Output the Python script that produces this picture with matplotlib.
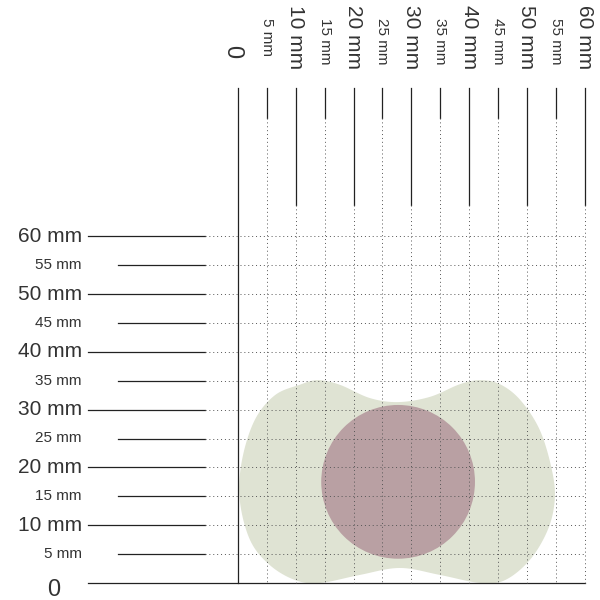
import numpy as np
import matplotlib.pyplot as plt

plt.rcParams['font.family'] = ['Liberation Sans', 'DejaVu Sans']

ticks = [5, 10, 15, 20, 25, 30, 35, 40, 45, 50, 55, 60]
labels = [f"{t} mm" for t in ticks]

# outline of the light green shape (mm)
blob_x = [6.4, 10.7, 13.8, 17.6, 22.8, 27.7, 33.2, 38.4, 41.9, 45.3, 48.8, 52.2, 54.3, 54.8,
          53.6, 50.5, 46.2, 41.9, 34.9, 28.0, 21.1, 14.2, 9.9, 5.5, 2.1, 0.3, 0.7, 2.9]
blob_y = [32.5, 34.3, 35.1, 34.3, 32.0, 31.3, 32.2, 34.4, 35.1, 34.4, 31.7, 26.5, 19.6, 14.4,
          9.2, 4.0, 0.5, 0.0, 1.4, 2.6, 1.4, 0.0, 0.5, 3.1, 7.4, 14.4, 21.3, 28.2]
circle_center = (27.7, 17.5)
circle_r = 13.3


def smooth_closed(xs, ys, n=12):
    p = np.column_stack([xs, ys])
    out = []
    m = len(p)
    for i in range(m):
        p0, p1, p2, p3 = p[i - 1], p[i], p[(i + 1) % m], p[(i + 2) % m]
        for t in np.linspace(0, 1, n, endpoint=False):
            out.append(0.5 * ((2 * p1) + (-p0 + p2) * t + (2 * p0 - 5 * p1 + 4 * p2 - p3) * t ** 2
                              + (-p0 + 3 * p1 - 3 * p2 + p3) * t ** 3))
    return np.array(out)


s = 5.78
fig = plt.figure(figsize=(6, 6), dpi=100)
ax = fig.add_axes([0, 0, 1, 1])
ax.set_xlim(-238 / s, 362 / s)
ax.set_ylim(-17 / s, 583 / s)
ax.axis('off')

pts = smooth_closed(blob_x, blob_y)
ax.fill(pts[:, 0], pts[:, 1], color='#dfe3d3', lw=0, zorder=1)
ax.add_patch(plt.Circle(circle_center, circle_r, color='#b9a0a3', lw=0, zorder=2))

line_col = '#222222'
txt_col = '#333333'
left0 = (88 - 238) / s
top0 = (583 - 88) / s
major_in = (205 - 238) / s
minor_start = (118 - 238) / s
vmajor_end = (583 - 205) / s
vminor_end = (583 - 118) / s

# axes lines
ax.plot([left0, 60], [0, 0], color=line_col, lw=0.9, zorder=3)
ax.plot([0, 0], [0, top0], color=line_col, lw=0.9, zorder=3)

for t, lab in zip(ticks, labels):
    major = t % 10 == 0
    # horizontal
    x0 = left0 if major else minor_start
    ax.plot([x0, major_in], [t, t], color=line_col, lw=0.9, zorder=3)
    ax.plot([major_in, 60], [t, t], color='#555555', lw=0.7, ls=(0, (1, 3)), zorder=3)
    # vertical
    y0 = vmajor_end if major else vminor_end
    ax.plot([t, t], [top0, y0], color=line_col, lw=0.9, zorder=3)
    ax.plot([t, t], [y0, 0], color='#555555', lw=0.7, ls=(0, (1, 3)), zorder=3)
    fs = 15 if major else 11
    ax.text((82 - 238) / s, t, lab, ha='right', va='center', fontsize=fs, color=txt_col)
    ax.text(t, (583 - 5) / s if major else (583 - 18) / s, lab, ha='center', va='top',
            rotation=-90, fontsize=fs, color=txt_col)

ax.text((60 - 238) / s, -7 / s, "0", ha='right', va='center', fontsize=17, color=txt_col)
ax.text(-6 / s, (583 - 45) / s, "0", ha='center', va='top', rotation=-90, fontsize=17, color=txt_col)

fig.savefig('out.png', dpi=100)
